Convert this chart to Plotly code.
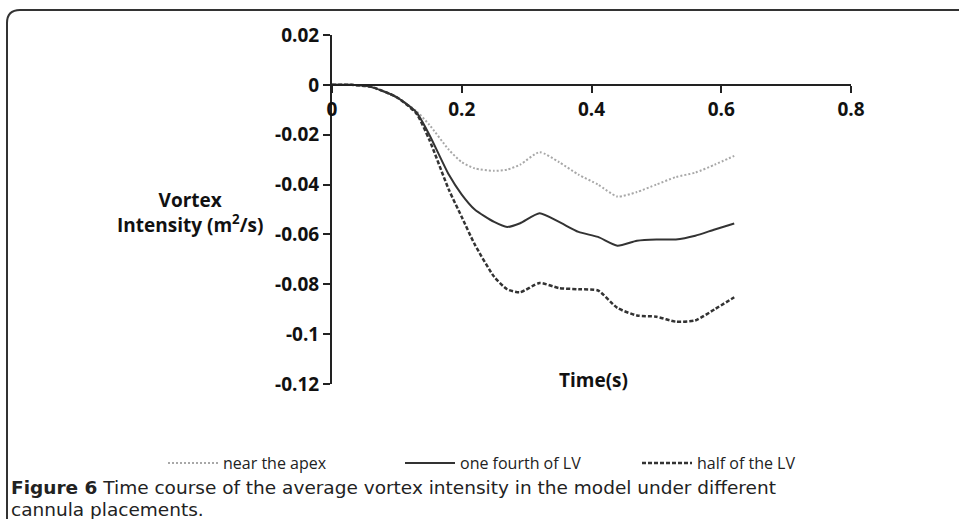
import plotly.graph_objects as go

# ---- data ----
time_s = [0, 0.03, 0.06, 0.10, 0.13, 0.15, 0.18, 0.20, 0.22, 0.25, 0.27, 0.29,
          0.32, 0.35, 0.38, 0.41, 0.44, 0.47, 0.50, 0.53, 0.56, 0.59, 0.62]

near_apex = [0, 0, -0.0008, -0.005, -0.0105, -0.016, -0.026, -0.031, -0.0335, -0.0345,
             -0.034, -0.032, -0.027, -0.031, -0.036, -0.040, -0.0448, -0.043, -0.040,
             -0.037, -0.0352, -0.032, -0.0285]

one_fourth = [0, 0, -0.0008, -0.005, -0.011, -0.020, -0.036, -0.044, -0.050, -0.055,
              -0.057, -0.0555, -0.0515, -0.055, -0.059, -0.061, -0.0645, -0.0625, -0.062,
              -0.062, -0.0605, -0.058, -0.0556]

half_lv = [0, 0, -0.0008, -0.005, -0.0115, -0.022, -0.042, -0.053, -0.064, -0.077,
           -0.082, -0.0832, -0.0795, -0.0815, -0.082, -0.0825, -0.0895, -0.0925, -0.093,
           -0.095, -0.0945, -0.090, -0.0852]

series_names = ["near the apex", "one fourth of LV", "half of the LV"]
x_ticks = [0, 0.2, 0.4, 0.6, 0.8]
x_tick_text = ["0", "0.2", "0.4", "0.6", "0.8"]
y_ticks = [0.02, 0, -0.02, -0.04, -0.06, -0.08, -0.1, -0.12]
y_tick_text = ["0.02", "0", "-0.02", "-0.04", "-0.06", "-0.08", "-0.1", "-0.12"]
caption_lines = ["<b>Figure 6</b> Time course of the average vortex intensity in the model under different",
                 "cannula placements."]

W, H = 959, 519
L, R, T, B = 332, 108, 35, 135
PW, PH = W - L - R, H - T - B


def px(x):
    return (x - L) / PW


def py(y):
    return (H - B - y) / PH


FONT = "Open Sans"
CAP_FONT = "DejaVu Sans"
fig = go.Figure()
fig.add_trace(go.Scatter(x=time_s, y=near_apex, name=series_names[0], mode="lines",
                         line=dict(color="#a8a8a8", width=2, dash="2px,2px", shape="spline", smoothing=0.6)))
fig.add_trace(go.Scatter(x=time_s, y=one_fourth, name=series_names[1], mode="lines",
                         line=dict(color="#333333", width=2, shape="spline", smoothing=0.6)))
fig.add_trace(go.Scatter(x=time_s, y=half_lv, name=series_names[2], mode="lines",
                         line=dict(color="#333333", width=2.5, dash="4px,2px", shape="spline", smoothing=0.6)))

yr = [-0.12, 0.02]
zero_pos = (0 - yr[0]) / (yr[1] - yr[0])

fig.update_layout(
    width=W, height=H,
    margin=dict(l=L, r=R, t=T, b=B),
    paper_bgcolor="white", plot_bgcolor="white",
    font=dict(family=FONT, color="#111111"),
    xaxis=dict(range=[0, 0.8], tickvals=x_ticks, ticktext=x_tick_text,
               showgrid=False, zeroline=False, showline=True, linecolor="#222222", linewidth=2,
               ticks="outside", ticklen=7, tickwidth=2, tickcolor="#222222",
               anchor="free", position=zero_pos,
               tickfont=dict(family=FONT, size=19, color="#111111", weight="bold")),
    yaxis=dict(range=yr, tickvals=y_ticks, ticktext=y_tick_text,
               showgrid=False, zeroline=False, showline=True, linecolor="#222222", linewidth=2,
               ticks="outside", ticklen=7, tickwidth=2, tickcolor="#222222",
               tickfont=dict(family=FONT, size=19, color="#111111", weight="bold")),
    legend=dict(orientation="h", x=px(163), y=py(463), xanchor="left", yanchor="middle",
                entrywidth=172, entrywidthmode="pixels",
                font=dict(family=FONT, size=16, color="#222222"), itemwidth=50,
                bgcolor="rgba(0,0,0,0)"),
    showlegend=True,
)

fig.add_annotation(xref="paper", yref="paper", x=px(190), y=py(212), xanchor="center", yanchor="middle",
                   text="<b>Vortex<br>Intensity (m<sup>2</sup>/s)</b>", showarrow=False, align="center",
                   font=dict(family=FONT, size=19, color="#111111"))
fig.add_annotation(xref="paper", yref="paper", x=px(593), y=py(380), xanchor="center", yanchor="middle",
                   text="<b>Time(s)</b>", showarrow=False,
                   font=dict(family=FONT, size=19, color="#111111"))
for line_text, yc in zip(caption_lines, [487, 509]):
    fig.add_annotation(xref="paper", yref="paper", x=px(10), y=py(yc), xanchor="left", yanchor="middle",
                       text=line_text, showarrow=False, align="left", borderpad=0,
                       font=dict(family=CAP_FONT, size=18.5, color="#222222"))

frame = (f"M {px(7)},{py(530)} L {px(7)},{py(23)} Q {px(7)},{py(10)} {px(20)},{py(10)} "
         f"L {px(970)},{py(10)}")
fig.add_shape(type="path", xref="paper", yref="paper", path=frame,
              line=dict(color="#333333", width=2))

fig.write_html("out.html", config={"displayModeBar": False},
               post_script="document.body.style.margin='0';document.body.style.overflow='hidden';")
